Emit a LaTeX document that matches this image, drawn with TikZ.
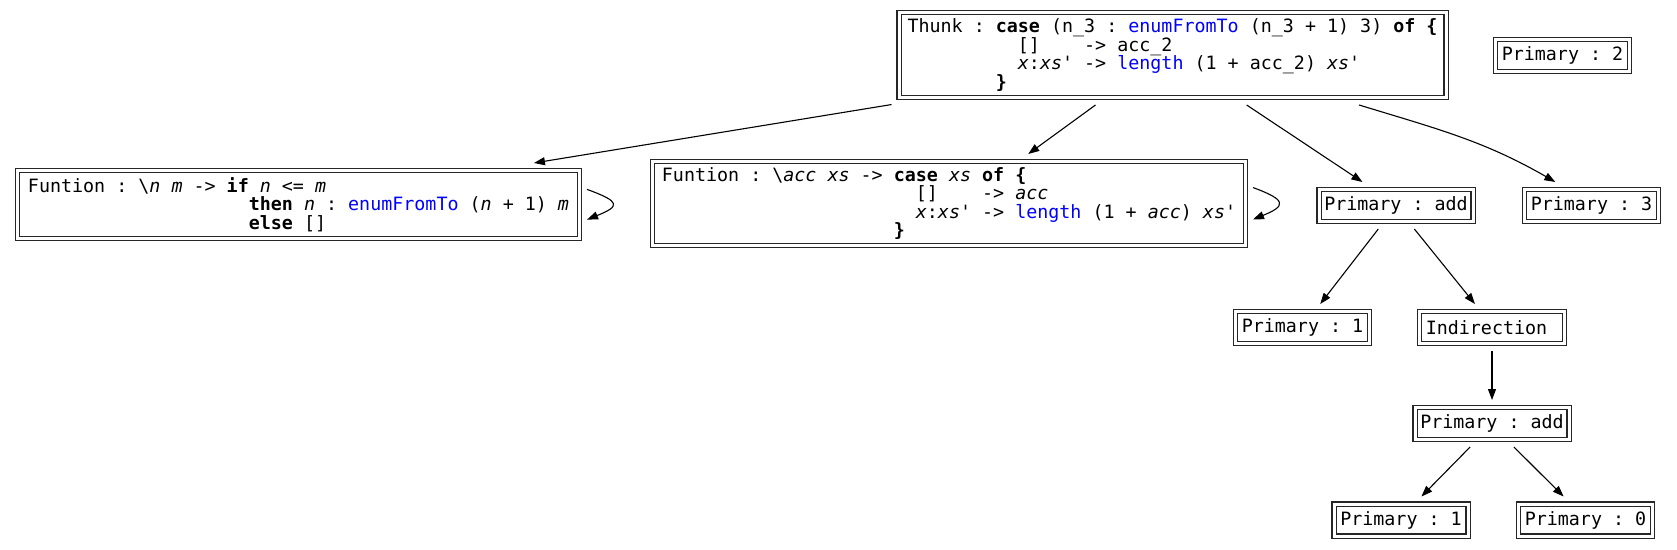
\documentclass[tikz,border=0pt]{standalone}
\usepackage{fontspec}
\setmonofont{DejaVu Sans Mono}
\usetikzlibrary{arrows.meta}
\definecolor{fnblue}{RGB}{0,0,255}
\newcommand{\kw}[1]{\textbf{#1}}
\newcommand{\fn}[1]{\textcolor{fnblue}{#1}}
\newcommand{\va}[1]{\textit{#1}}
\newcommand{\col}[1]{\hspace*{#1\fontcharwd\font`0}}

\begin{document}
\begin{tikzpicture}[x=1pt,y=-1pt,
		font=\ttfamily\fontsize{18.34pt}{18.4pt}\selectfont\frenchspacing,
		cell/.style={draw=black!85, double, double distance=3pt, line width=1.05pt,
			inner sep=2pt, outer sep=7.5pt, minimum height=32pt},
		code/.style={cell, align=left},
		ptr/.style={-{Triangle[length=11pt,width=8pt]}, line width=1.1pt}]
		\useasboundingbox (0,0) rectangle (1677,549);

		% --- Nodos del heap (centro en px) ---
		\node[code, minimum width=547pt, minimum height=85pt] (thunk) at (1172.5,55)
			{Thunk : \kw{case} (n\_3 : \fn{enumFromTo} (n\_3 + 1) 3) \kw{of \{}\\
			\col{10}[]\col{4}-> acc\_2\\
			\col{10}\va{x}:\va{xs}' -> \fn{length} (1 + acc\_2) \va{xs}'\\
			\col{8}\kw{\}}};
		\node[cell, minimum width=134pt] (p2) at (1562.5,55.5) {Primary : 2};

		\node[code, minimum width=562pt, minimum height=68pt] (fun1) at (298.5,204.5)
			{Funtion : \textbackslash\va{n} \va{m} -> \kw{if} \va{n} <= \va{m}\\
			\col{20}\kw{then} \va{n} : \fn{enumFromTo} (\va{n} + 1) \va{m}\\
			\col{20}\kw{else} []};
		\node[code, minimum width=593pt, minimum height=84pt] (fun2) at (949,203.5)
			{Funtion : \textbackslash\va{acc} \va{xs} -> \kw{case} \va{xs} \kw{of \{}\\
			\col{23}[]\col{4}-> \va{acc}\\
			\col{23}\va{x}:\va{xs}' -> \fn{length} (1 + \va{acc}) \va{xs}'\\
			\col{21}\kw{\}}};
		\node[cell, minimum width=154pt] (add1) at (1396,205.5) {Primary : add};
		\node[cell, minimum width=134pt] (p3) at (1591.5,205.5) {Primary : 3};

		\node[cell, minimum width=134pt] (p1a) at (1302.5,327.5) {Primary : 1};
		\node[cell, minimum width=145pt] (ind) at (1492,327.5) {Indirection\hphantom{x}};
		\node[cell, minimum width=154pt] (add2) at (1492,423.5) {Primary : add};
		\node[cell, minimum width=134pt] (p1b) at (1401,520) {Primary : 1};
		\node[cell, minimum width=134pt] (p0) at (1585.5,520) {Primary : 0};

		% --- Punteros ---
		\draw[ptr] (thunk.190) -- (fun1.10);
		\draw[ptr] (thunk.213) -- (fun2.32);
		\draw[ptr] (thunk.-34) -- (add1.145);
		\draw[ptr] (thunk.-15) to[out=-17,in=150] (p3.147);
		\draw[ptr] (fun1.3) .. controls +(-20:36pt) and +(22:36pt) .. (fun1.-3);
		\draw[ptr] (fun2.3) .. controls +(-20:36pt) and +(22:36pt) .. (fun2.-3);
		\draw[ptr] (add1.233) -- (p1a.53);
		\draw[ptr] (add1.-52) -- (ind.126);
		\draw[ptr] (ind) -- (add2);
		\draw[ptr] (add2.227) -- (p1b.49);
		\draw[ptr] (add2.-47) -- (p0.133);
	\end{tikzpicture}
\end{document}
